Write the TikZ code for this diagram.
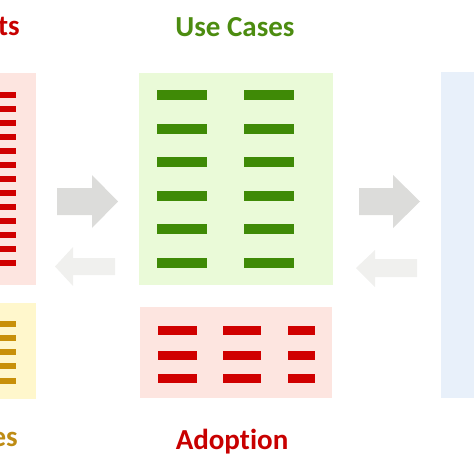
\documentclass[tikz,border=0pt]{standalone}
\usepackage{fontspec}
\setmainfont{Carlito}[Ligatures=NoCommon]
\usetikzlibrary{positioning}
\definecolor{titlered}{HTML}{C80000}
\definecolor{titlegreen}{HTML}{4C8C10}
\definecolor{titlegold}{HTML}{BE8C14}
\definecolor{barred}{HTML}{D00000}
\definecolor{bargreen}{HTML}{3F8A06}
\definecolor{bargold}{HTML}{C8900A}
\definecolor{panelred}{HTML}{FDE5E0}
\definecolor{panelgreen}{HTML}{EAFAD8}
\definecolor{panelgold}{HTML}{FFF7CC}
\definecolor{panelblue}{HTML}{E8F0FA}
\definecolor{arrowdark}{HTML}{DCDCDA}
\definecolor{arrowlight}{HTML}{F0F0EE}

\begin{document}
\begin{tikzpicture}[x=1pt,y=-1pt,
    title/.style={font=\fontsize{29}{34}\selectfont\bfseries, inner sep=0pt}]
            \useasboundingbox (0,0) rectangle (474,474);
            % Les panneaux
            \fill[panelred] (0,73) rectangle (36,285);
            \fill[panelgold] (0,303) rectangle (36,399);
            \fill[panelgreen] (139,73) rectangle (333,285);
            \fill[panelred] (140,307) rectangle (332,398);
            \fill[panelblue] (441,72) rectangle (474,398);
            % Les barres
            \foreach \y in {95,109,...,263}
                \fill[barred] (0,\y-3) rectangle (16,\y+3);
            \foreach \y in {324,338,352,366,381}
                \fill[bargold] (0,\y-3) rectangle (16,\y+3);
            \foreach \y in {95,129,162,196,229,263} {
                \fill[bargreen] (157,\y-4.75) rectangle (207,\y+4.75);
                \fill[bargreen] (244,\y-4.75) rectangle (294,\y+4.75);
            }
            \foreach \y in {330,355,378} {
                \fill[barred] (158,\y-4.5) rectangle (197,\y+4.5);
                \fill[barred] (223,\y-4.5) rectangle (261,\y+4.5);
                \fill[barred] (288,\y-4.5) rectangle (315,\y+4.5);
            }
            % Les flèches
            \fill[arrowdark] (57,188) -- (92,188) -- (92,175) -- (118,201.5)
                -- (92,228) -- (92,215) -- (57,215) -- cycle;
            \fill[arrowlight] (115,258) -- (73,258) -- (73,247) -- (55,266.5)
                -- (73,286) -- (73,275) -- (115,275) -- cycle;
            \fill[arrowdark] (359,188) -- (393,188) -- (393,175) -- (420,201.5)
                -- (393,228) -- (393,215) -- (359,215) -- cycle;
            \fill[arrowlight] (417,259) -- (375,259) -- (375,250) -- (356,268)
                -- (375,287) -- (375,277) -- (417,277) -- cycle;
            % Les titres
            \node[title, text=titlered, anchor=base east] (reqtitle) at (20,35) {ts};
            \node[title, text=titlegreen, anchor=base] (usetitle) at (235,36) {Use Cases};
            \node[title, text=titlered, anchor=base] (adopttitle) at (232,449) {Adoption};
            \node[title, text=titlegold, anchor=base east] (goldtitle) at (18,446) {es};
        \end{tikzpicture}
\end{document}
